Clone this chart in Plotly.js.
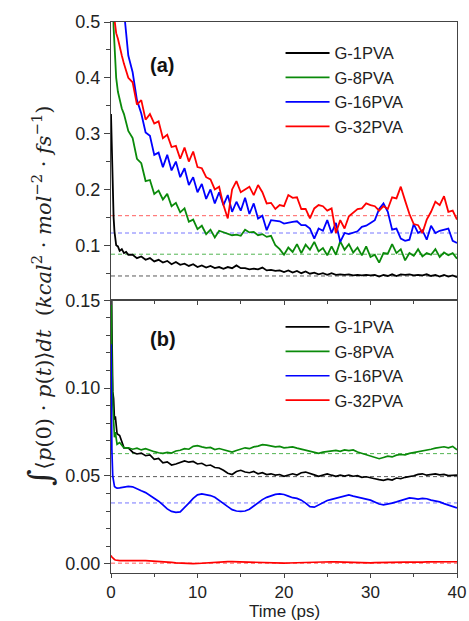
<!DOCTYPE html>
<html>
<head>
<meta charset="utf-8">
<script src="https://cdn.plot.ly/plotly-3.0.1.min.js"></script>
<style>html,body{margin:0;padding:0;background:#fff;}#chart{width:469px;height:621px;}</style>
</head>
<body>
<div id="chart"></div>
<script>
// ---------- DATA ----------
const seriesNames = ["G-1PVA", "G-8PVA", "G-16PVA", "G-32PVA"];
const seriesColors = ["#000000", "#0a8a0a", "#0000ff", "#ff0000"];
const refColors = ["rgba(0,0,0,0.65)", "rgba(10,150,10,0.7)", "rgba(60,60,255,0.7)", "rgba(255,40,40,0.75)"];

const tTop = [0,0.1,0.2,0.3,0.4,0.5,0.6,0.8,1.0,1.25,1.5,1.75,2.0,
  2.5,3,3.5,4,4.5,5,5.5,6,6.5,7,
  7.5,8,8.5,9,9.5,10,10.5,11,11.5,12,
  12.5,13,13.5,14,14.5,15,15.5,16,16.5,17,
  17.5,18,18.5,19,19.5,20,20.5,21,21.5,22,
  22.5,23,23.5,24,24.5,25,25.5,26,26.5,27,
  27.5,28,28.5,29,29.5,30,30.5,31,31.5,32,
  32.5,33,33.5,34,34.5,35,35.5,36,36.5,37,
  37.5,38,38.5,39,39.5,40];

// panel (a)
const topG1 = [.335,.26,.19,.15,.125,.112,.10,.098,.09,.093,.086,.088,.083,
  .083,.077,.080,.074,.077,.071,.074,.069,.072,.066,
  .070,.065,.067,.063,.066,.061,.064,.060,.063,.059,
  .061,.058,.061,.059,.064,.059,.059,.057,.058,.057,
  .060,.055,.056,.054,.055,.052,.055,.051,.054,.050,
  .053,.049,.051,.048,.050,.047,.050,.047,.048,.047,
  .048,.046,.047,.046,.047,.046,.047,.044,.047,.045,
  .048,.045,.048,.047,.048,.046,.047,.046,.048,.045,
  .047,.044,.047,.044,.046,.043];
const topG8 = [.9,.7,.56,.49,.45,.42,.40,.375,.36,.345,.335,.318,.305,
  .292,.255,.247,.215,.217,.192,.198,.182,.192,.17,
  .176,.159,.166,.142,.146,.129,.135,.12,.128,.114,
  .126,.123,.12,.118,.119,.117,.128,.123,.124,.118,
  .12,.115,.117,.1,.093,.083,.096,.088,.102,.086,
  .101,.092,.106,.089,.095,.082,.098,.083,.107,.092,
  .102,.087,.096,.082,.098,.079,.083,.069,.086,.085,
  .102,.086,.093,.073,.086,.081,.093,.08,.086,.083,
  .093,.079,.087,.082,.086,.076];
const topG16 = [1.2,1.1,1.0,.95,.9,.85,.8,.72,.65,.58,.52,.48,.44,
  .41,.36,.336,.302,.296,.262,.266,.24,.262,.234,
  .25,.222,.238,.208,.222,.195,.21,.183,.2,.175,
  .195,.172,.19,.16,.178,.162,.185,.156,.175,.148,
  .153,.127,.145,.144,.143,.139,.141,.142,.143,.136,
  .136,.13,.112,.13,.126,.145,.122,.14,.106,.122,
  .12,.123,.125,.133,.135,.14,.145,.165,.175,.16,
  .128,.13,.112,.108,.11,.138,.122,.127,.11,.135,
  .122,.126,.128,.13,.108,.104];
const topG32 = [1.0,.8,.62,.52,.505,.495,.48,.47,.455,.44,.425,.41,.40,
  .392,.352,.36,.325,.335,.318,.322,.292,.298,.276,
  .278,.255,.275,.25,.268,.24,.238,.222,.218,.2,
  .205,.172,.148,.2,.215,.195,.2,.205,.19,.208,
  .195,.175,.176,.165,.172,.17,.19,.185,.186,.165,
  .165,.148,.166,.172,.17,.162,.166,.122,.145,.13,
  .152,.158,.165,.166,.175,.172,.17,.162,.17,.165,
  .186,.184,.205,.18,.156,.138,.136,.122,.146,.16,
  .178,.172,.188,.16,.162,.146];
const refTop = [0.045, 0.084, 0.122, 0.153];

const tBot = [0,0.05,0.1,0.2,0.3,0.4,0.5,0.7,1.0,1.5,2.0,
  2.5,3,3.5,4,4.5,5,5.5,6,6.5,7,
  7.5,8,8.5,9,9.5,10,10.5,11,11.5,12,
  12.5,13,13.5,14,14.5,15,15.5,16,16.5,17,
  17.5,18,18.5,19,19.5,20,20.5,21,21.5,22,
  22.5,23,23.5,24,24.5,25,25.5,26,26.5,27,
  27.5,28,28.5,29,29.5,30,30.5,31,31.5,32,
  32.5,33,33.5,34,34.5,35,35.5,36,36.5,37,
  37.5,38,38.5,39,39.5,40];

// panel (b)
const botG1 = [.2,.15,.135,.098,.094,.082,.084,.074,.073,.066,.066,
  .0635,.0625,.063,.0615,.062,.0595,.060,.0575,.058,.0562,
  .0568,.0575,.0585,.0578,.0582,.0568,.0572,.0558,.0562,.0548,
  .0545,.0532,.0515,.0508,.0525,.0532,.0522,.0518,.0525,.0512,
  .0518,.0508,.0512,.0505,.0508,.0498,.0506,.0512,.0505,.0518,
  .0522,.0512,.0506,.0498,.0505,.0511,.0504,.0498,.0504,.0499,
  .0505,.0498,.0501,.0492,.0495,.0488,.0484,.0479,.0475,.0482,
  .0476,.0488,.0484,.0492,.0496,.0501,.0509,.0512,.0504,.0508,
  .0512,.0506,.0509,.0502,.0505,.0504];
const botG8 = [.16,.13,.115,.092,.082,.072,.075,.068,.069,.066,.066,
  .0652,.0658,.0648,.0655,.0645,.0638,.0632,.0628,.0634,.0630,
  .0642,.0646,.0655,.0652,.0668,.0672,.0665,.0660,.0662,.0650,
  .0656,.0648,.0642,.0636,.0645,.0652,.0660,.0655,.0665,.0670,
  .0678,.0675,.0670,.0665,.0668,.0660,.0662,.0665,.0658,.0652,
  .0648,.0640,.0632,.0628,.0635,.0638,.0642,.0645,.0640,.0648,
  .0644,.0648,.0636,.0628,.0622,.0610,.0604,.0598,.0605,.0612,
  .0608,.0618,.0622,.0620,.0628,.0632,.0638,.0640,.0648,.0652,
  .0658,.0662,.0666,.0660,.0668,.0648];
const botG16 = [.125,.09,.065,.05,.046,.044,.0435,.043,.0432,.0438,.044,
  .0438,.0425,.0415,.0405,.0390,.0372,.0356,.0335,.0312,.0298,
  .0292,.0295,.0318,.0345,.0372,.0392,.0398,.0395,.0388,.0378,
  .0362,.0345,.0325,.0308,.0300,.0298,.0300,.0310,.0328,.0348,
  .0365,.0378,.0388,.0395,.0398,.0394,.0385,.0376,.0372,.0362,
  .0345,.0325,.0322,.0335,.0348,.0360,.0366,.0372,.0380,.0388,
  .0392,.0385,.0378,.0372,.0368,.0362,.0352,.0340,.0335,.0338,
  .0345,.0352,.0360,.0368,.0375,.0372,.0368,.0372,.0370,.0362,
  .0358,.0352,.0342,.0335,.0328,.0318];
const botG32 = [.004,.0042,.0038,.0032,.0028,.0024,.0021,.0019,.0018,.0018,.0019,
  .0019,.0018,.0018,.0017,.0016,.0015,.0013,.0011,.0009,.0007,
  .0005,.0003,.0002,.0001,.0000,.0001,.0003,.0005,.0007,.0009,
  .0010,.0011,.0012,.0012,.0011,.0010,.0009,.0008,.0007,.0006,
  .0005,.0004,.0003,.0002,.0002,.0003,.0004,.0005,.0006,.0006,
  .0007,.0007,.0008,.0009,.0010,.0010,.0011,.0010,.0009,.0008,
  .0007,.0006,.0005,.0004,.0004,.0005,.0006,.0007,.0008,.0009,
  .0009,.0010,.0010,.0009,.0009,.0008,.0008,.0009,.0010,.0010,
  .0011,.0011,.0012,.0012,.0011,.0011];
const refBot = [0.0496, 0.0627, 0.0346, 0.0003];
const refX = [0, 40];

const xTicks = [0, 10, 20, 30, 40];

// ---------- TRACES ----------
const topData = [topG1, topG8, topG16, topG32];
const botData = [botG1, botG8, botG16, botG32];
const traces = [];

refTop.forEach((v, i) => traces.push({
  x: refX, y: [v, v], xaxis: 'x2', yaxis: 'y2', mode: 'lines', showlegend: false, hoverinfo: 'skip',
  line: {color: refColors[i], width: 1, dash: '4px,3px'}
}));
topData.forEach((d, i) => traces.push({
  x: tTop, y: d, xaxis: 'x2', yaxis: 'y2', mode: 'lines', name: seriesNames[i], legend: 'legend',
  line: {color: seriesColors[i], width: 1.8}
}));
refBot.forEach((v, i) => traces.push({
  x: refX, y: [v, v], xaxis: 'x', yaxis: 'y', mode: 'lines', showlegend: false, hoverinfo: 'skip',
  line: {color: refColors[i], width: 1, dash: '4px,3px'}
}));
botData.forEach((d, i) => traces.push({
  x: tBot, y: d, xaxis: 'x', yaxis: 'y', mode: 'lines', name: seriesNames[i], legend: 'legend2',
  line: {color: seriesColors[i], width: 1.7}
}));

// ---------- LAYOUT ----------
const F = 'Arial, "Liberation Sans", sans-serif';
const axCommon = {
  showline: true, linecolor: '#444', linewidth: 1, mirror: true,
  ticks: 'outside', ticklen: 6, tickwidth: 1, tickcolor: '#444',
  showgrid: false, zeroline: false,
  tickfont: {family: F, size: 18, color: '#222'}
};
const xBase = Object.assign({}, axCommon, {
  range: [0, 40], tickvals: xTicks, ticktext: xTicks.map(String), ticklen: 4,
  tickfont: {family: F, size: 17, color: '#222'},
  minor: {dtick: 5, tick0: 0, ticks: 'outside', ticklen: 3, tickcolor: '#444', showgrid: false}
});

const layout = {
  width: 469, height: 621,
  margin: {l: 111, r: 12, t: 22, b: 48},
  paper_bgcolor: '#fff', plot_bgcolor: '#fff',
  font: {family: F, color: '#222'},
  xaxis: Object.assign({}, xBase, {anchor: 'y', domain: [0, 1]}),
  xaxis2: Object.assign({}, xBase, {anchor: 'y2', matches: 'x', showticklabels: false}),
  yaxis: Object.assign({}, axCommon, {
    anchor: 'x', domain: [0, 0.4955], range: [-0.0053, 0.1502],
    tick0: 0, dtick: 0.05, tickformat: '.2f',
    minor: {dtick: 0.01, tick0: 0, ticks: 'outside', ticklen: 4, tickcolor: '#444', showgrid: false}
  }),
  yaxis2: Object.assign({}, axCommon, {
    anchor: 'x2', domain: [0.4955, 1], range: [0.002, 0.5],
    tick0: 0, dtick: 0.1, tickformat: '.1f',
    minor: {dtick: 0.05, tick0: 0, ticks: 'outside', ticklen: 4, tickcolor: '#444', showgrid: false}
  }),
  legend: {
    x: 0.49, y: 0.975, xanchor: 'left', yanchor: 'top', bgcolor: 'rgba(0,0,0,0)',
    font: {family: F, size: 16.5, color: '#222'}, itemwidth: 44, tracegroupgap: 0
  },
  legend2: {
    x: 0.49, y: 0.478, xanchor: 'left', yanchor: 'top', bgcolor: 'rgba(0,0,0,0)',
    font: {family: F, size: 16.5, color: '#222'}, itemwidth: 44, tracegroupgap: 0
  },
  annotations: [
    {text: '<b>(a)</b>', xref: 'paper', yref: 'paper', x: 0.107, y: 0.9456, showarrow: false,
     font: {family: F, size: 20, color: '#111'}},
    {text: '<b>(b)</b>', xref: 'paper', yref: 'paper', x: 0.107, y: 0.4247, showarrow: false,
     font: {family: F, size: 20, color: '#111'}},
    {text: 'Time (ps)', xref: 'paper', yref: 'paper', x: 0.5, y: -0.0705, xanchor: 'center', yanchor: 'middle',
     showarrow: false, font: {family: F, size: 17, color: '#222'}},
    {text: '<span style="font-size:32px">∫</span>⟨<i>p</i>(0) · <i>p</i>(<i>t</i>)⟩<i>dt</i>  (<i>kcal</i><sup>2</sup> · <i>mol</i><sup>−2</sup> · <i>fs</i><sup>−1</sup>)',
     xref: 'paper', yref: 'paper', x: -0.205, y: 0.5027, xanchor: 'center', yanchor: 'middle',
     textangle: -90, showarrow: false,
     font: {family: '"DejaVu Serif", "Liberation Serif", serif', size: 21, color: '#222'}}
  ],
  showlegend: true
};

Plotly.newPlot('chart', traces, layout, {staticPlot: true, displayModeBar: false});
</script>
</body>
</html>
